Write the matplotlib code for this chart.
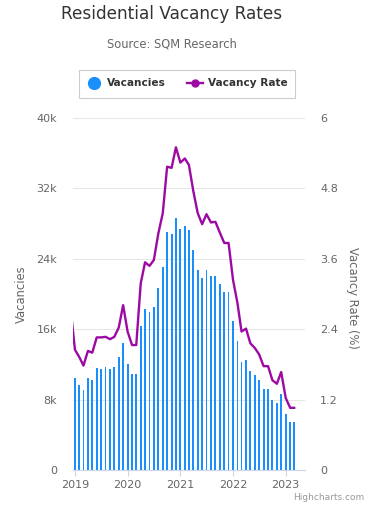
import pandas as pd
import matplotlib.pyplot as plt
import matplotlib.dates as mdates
from matplotlib.lines import Line2D
from matplotlib.patches import Rectangle
from matplotlib.ticker import FuncFormatter

# 数据: 每月空置数量 (柱) 与空置率 (线)
months = pd.date_range('2019-01-01', '2023-03-01', freq='MS')
vacancies = [
    10460, 9670, 9100, 10460, 10240, 11600, 11490, 11720, 11490, 11720, 12850, 14450,
    12060, 10920, 10920, 16380, 18310, 17970, 18540, 20700, 23090, 27000, 26770, 28600,
    27340, 27690, 27230, 24950, 22750, 21840, 22750, 22070, 22070, 21160, 20250, 20250,
    16950, 14670, 12280, 12510, 11260, 10810, 10240, 9210, 9210, 7960, 7620, 8640,
    6370, 5460, 5460,
]
rate_months = pd.date_range('2018-12-01', '2023-03-01', freq='MS')
rates = [
    2.77,
    2.05, 1.92, 1.78, 2.03, 2.00, 2.26, 2.26, 2.27, 2.23, 2.27, 2.43, 2.81,
    2.36, 2.13, 2.13, 3.18, 3.54, 3.48, 3.58, 4.03, 4.38, 5.17, 5.15, 5.50,
    5.24, 5.31, 5.20, 4.75, 4.38, 4.19, 4.36, 4.22, 4.23, 4.05, 3.87, 3.87,
    3.24, 2.84, 2.36, 2.41, 2.16, 2.08, 1.97, 1.77, 1.77, 1.53, 1.47, 1.67,
    1.23, 1.06, 1.06,
]
left_ticks = [0, 8000, 16000, 24000, 32000, 40000]
right_ticks = [0, 1.2, 2.4, 3.6, 4.8, 6]
right_labels = ['0', '1.2', '2.4', '3.6', '4.8', '6']

BLUE = '#1a8ffb'
PURPLE = '#9c0aa3'
W, H = 369, 512


def fx(px):
    return px / W


def fy(py):
    return 1 - py / H


plt.rcParams['font.family'] = ['DejaVu Sans']
fig = plt.figure(figsize=(W / 100, H / 100), dpi=100)
ax = fig.add_axes([fx(72.5), fy(470), fx(305) - fx(72.5), fy(118) - fy(470)])

ax.bar(months, vacancies, width=13, color=BLUE, zorder=2)
ax.set_ylim(0, 40000)
ax.set_yticks(left_ticks)
ax.yaxis.set_major_formatter(FuncFormatter(lambda v, p: '0' if v == 0 else f'{int(v / 1000)}k'))
ax.grid(axis='y', color='#e6e6e6', linewidth=0.75)
ax.set_axisbelow(True)
ax.set_xlim(pd.Timestamp('2018-12-15'), pd.Timestamp('2023-05-15'))
ax.xaxis.set_major_locator(mdates.YearLocator())
ax.xaxis.set_major_formatter(mdates.DateFormatter('%Y'))

ax2 = ax.twinx()
ax2.plot(rate_months, rates, color=PURPLE, linewidth=1.7, zorder=3)
ax2.set_ylim(0, 6)
ax2.set_yticks(right_ticks)
ax2.set_yticklabels(right_labels)

for a in (ax, ax2):
    for s in ('top', 'left', 'right'):
        a.spines[s].set_visible(False)
    a.spines['bottom'].set_color('#ccd6eb')
ax2.spines['bottom'].set_visible(False)

ax.tick_params(axis='x', colors='#ccd6eb', length=4, width=0.8, pad=3, labelcolor='#666666', labelsize=8)
ax.tick_params(axis='y', length=0, pad=11, labelcolor='#666666', labelsize=8)
ax2.tick_params(axis='y', length=0, pad=11, labelcolor='#666666', labelsize=8)

# 轴标题
fig.text(fx(21), fy(294), 'Vacancies', rotation=90, ha='center', va='center', color='#666666', fontsize=8.3)
fig.text(fx(352), fy(298), 'Vacancy Rate (%)', rotation=270, ha='center', va='center', color='#666666', fontsize=8.3)

# 标题
fig.text(fx(172), fy(14), 'Residential Vacancy Rates', ha='center', va='center', color='#333333', fontsize=12.2)
fig.text(fx(172), fy(44), 'Source: SQM Research', ha='center', va='center', color='#666666', fontsize=8.3)

# 图例
fig.add_artist(Rectangle((fx(78.5), fy(97.5)), fx(294.5) - fx(78.5), fy(69.5) - fy(97.5),
                         transform=fig.transFigure, facecolor='none', edgecolor='#cccccc', linewidth=0.8))
fig.add_artist(Line2D([fx(94.3)], [fy(82.5)], marker='o', markersize=8.5, color=BLUE,
                      linestyle='none', transform=fig.transFigure))
fig.text(fx(107), fy(82.5), 'Vacancies', ha='left', va='center', color='#333333', fontsize=7.6, fontweight='bold')
fig.add_artist(Line2D([fx(187), fx(203)], [fy(82.5), fy(82.5)], color=PURPLE, linewidth=1.7,
                      transform=fig.transFigure))
fig.add_artist(Line2D([fx(195)], [fy(82.5)], marker='o', markersize=5, color=PURPLE,
                      linestyle='none', transform=fig.transFigure))
fig.text(fx(208), fy(82.5), 'Vacancy Rate', ha='left', va='center', color='#333333', fontsize=7.6, fontweight='bold')

fig.text(fx(364), fy(498), 'Highcharts.com', ha='right', va='center', color='#999999', fontsize=6.5)

plt.savefig('out.png', dpi=100)
